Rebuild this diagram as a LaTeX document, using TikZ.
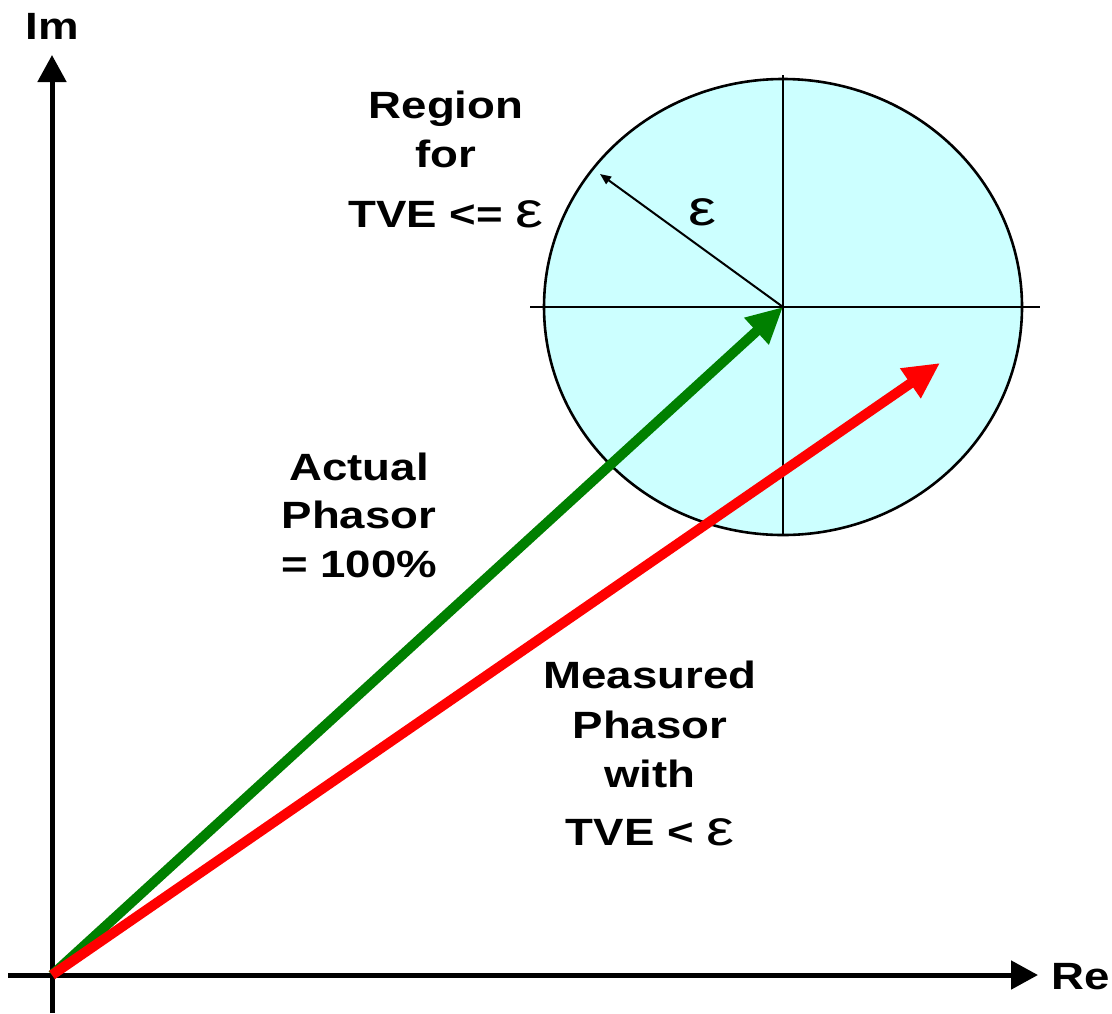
\documentclass[tikz,border=0pt]{standalone}
\usepackage{fontspec}
\usepackage{graphicx}
\setmainfont{Liberation Sans}
\usetikzlibrary{arrows.meta}
\definecolor{regionfill}{RGB}{204,255,255}
\definecolor{phgreen}{RGB}{0,128,0}
\definecolor{phred}{RGB}{255,0,0}
\newcommand{\wide}[1]{\scalebox{1.2}[1]{#1}}
\newcommand{\epsglyph}{\scalebox{1.25}[1]{\fontsize{25}{25}\selectfont\mdseries ε}}
\tikzset{
  lbl/.style={font=\fontsize{19}{22}\selectfont\bfseries, anchor=base, inner sep=0pt},
  axis/.style={line width=2.5pt, -{Triangle[length=13.5pt,width=14pt]}},
  phasor/.style={line width=5pt, -{Triangle[length=18pt,width=17pt]}},
  thin line/.style={line width=0.8pt},
}
\begin{document}
\begin{tikzpicture}[x=0.5pt,y=-0.5pt]
\useasboundingbox (0,0) rectangle (1112,1013);
% key points
\coordinate (O) at (52,975);
\coordinate (Ybot) at (52,1013);
\coordinate (Ytop) at (52,55);
\coordinate (Xleft) at (8,975);
\coordinate (Xright) at (1038,975);
\coordinate (C) at (783,307);
\coordinate (Mtip) at (940,363);
\coordinate (Etip) at (600,174);
\coordinate (Hl) at (530,307);
\coordinate (Hr) at (1040,307);
\coordinate (Vt) at (783,75);
\coordinate (Vb) at (783,535);
% region
\draw[fill=regionfill, line width=1.3pt] (C) ellipse [x radius=119.5pt, y radius=114pt];
\draw[thin line] (Hl) -- (Hr);
\draw[thin line] (Vt) -- (Vb);
\draw[line width=1pt, -{Triangle[length=5.5pt,width=4.5pt]}] (C) -- (Etip);
\node[lbl] (eps) at (702,225) {\epsglyph};
% axes
\draw[axis] (Ybot) -- (Ytop);
\draw[axis] (Xleft) -- (Xright);
\node[lbl] (im) at (52,39) {\wide{Im}};
\node[lbl] (re) at (1081,989) {\wide{Re}};
% phasors
\draw[phasor, phgreen] (O) -- (C);
\draw[phasor, phred] (O) -- (Mtip);
% labels
\node[lbl] (r1) at (446,118) {\wide{Region}};
\node[lbl] (r2) at (446,167) {\wide{for}};
\node[lbl] (r3) at (446,227) {\wide{TVE <= }\epsglyph};
\node[lbl] (a1) at (359,480) {\wide{Actual}};
\node[lbl] (a2) at (359,528) {\wide{Phasor}};
\node[lbl] (a3) at (359,577) {\wide{= 100\%}};
\node[lbl] (m1) at (650,688) {\wide{Measured}};
\node[lbl] (m2) at (650,738) {\wide{Phasor}};
\node[lbl] (m3) at (650,787) {\wide{with}};
\node[lbl] (m4) at (650,845) {\wide{TVE < }\epsglyph};
\end{tikzpicture}
\end{document}
